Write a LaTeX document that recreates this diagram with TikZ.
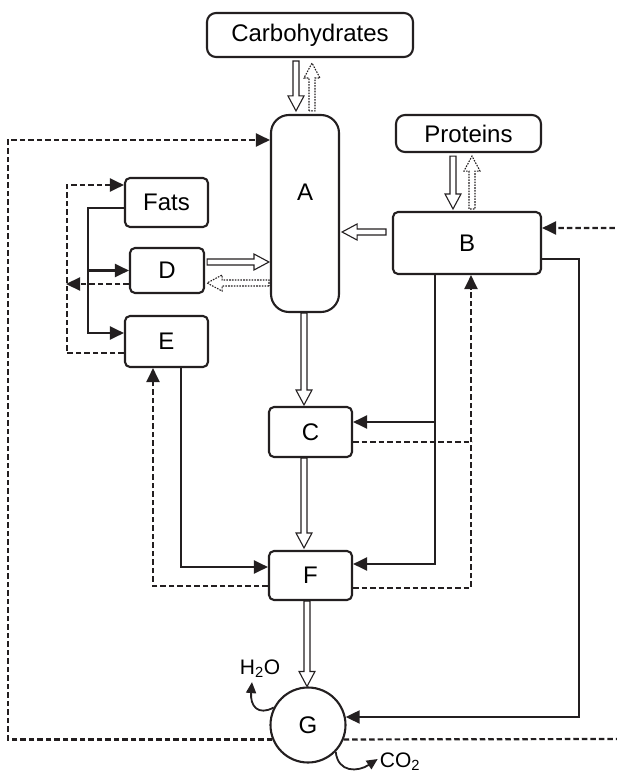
\documentclass[tikz,border=0pt]{standalone}
\usepackage{fontspec}
\setmainfont{Liberation Sans}
\usetikzlibrary{arrows.meta,positioning,calc}
\definecolor{ink}{HTML}{231F20}
\tikzset{
  unitbox/.style={
    draw=ink, line width=2.1pt, rounded corners=5pt,
    inner sep=0pt, font=\fontsize{24}{28}\selectfont
  },
  gasnote/.style={inner sep=2pt, font=\fontsize{21}{24}\selectfont},
  flow/.style={draw=ink, line width=2.2pt, -{Triangle[length=14pt,width=13pt]}},
  backflow/.style={flow, dash pattern=on 5.5pt off 3pt},
  hollow/.style={draw=ink, line width=1.1pt, to path={
    ($(\tikztostart)!3pt!90:(\tikztotarget)$)
    -- ($(\tikztotarget)!15pt!(\tikztostart)!3pt!-90:(\tikztostart)$)
    -- ($(\tikztotarget)!15pt!(\tikztostart)!8pt!-90:(\tikztostart)$)
    -- (\tikztotarget)
    -- ($(\tikztotarget)!15pt!(\tikztostart)!8pt!90:(\tikztostart)$)
    -- ($(\tikztotarget)!15pt!(\tikztostart)!3pt!90:(\tikztostart)$)
    -- ($(\tikztostart)!3pt!-90:(\tikztotarget)$) -- cycle}},
  hollowback/.style={hollow, dash pattern=on 1.6pt off 1.2pt}
}
\begin{document}
\begin{tikzpicture}[x=1pt,y=-1pt]
\useasboundingbox (0,0) rectangle (616,773);
% sources
\node[unitbox, rounded corners=9pt, minimum width=206pt, minimum height=44pt] (carb) at (310,35) {Carbohydrates};
\node[unitbox, rounded corners=9pt, minimum width=145pt, minimum height=37pt] (prot) at (468.5,133.5) {Proteins};
% pools
\node[unitbox, rounded corners=18pt, minimum width=68pt, minimum height=197pt,
  label={[font=\fontsize{24}{28}\selectfont, yshift=21pt]center:A}] (A) at (305,213.5) {};
\node[unitbox, minimum width=148pt, minimum height=62pt] (B) at (467,243) {B};
\node[unitbox, minimum width=83pt, minimum height=49pt] (fats) at (166.5,202.5) {Fats};
\node[unitbox, minimum width=74pt, minimum height=45pt] (D) at (167,270.5) {D};
\node[unitbox, minimum width=83pt, minimum height=51pt] (E) at (166.5,341.5) {E};
\node[unitbox, minimum width=83pt, minimum height=50pt] (C) at (310.5,432) {C};
\node[unitbox, minimum width=83pt, minimum height=49pt] (F) at (310.5,575.5) {F};
\node[unitbox, circle, minimum size=75pt] (G) at (308,725) {G};
\node[gasnote] (h2o) at (260,669) {H\textsubscript{2}O};
\node[gasnote] (co2) at (400,762) {CO\textsubscript{2}};

% main stream
\draw[hollow] ([xshift=-14pt,yshift=-3pt]carb.south) to ([xshift=-9pt,yshift=3pt]A.north);
\draw[hollowback] ([xshift=7pt,yshift=3pt]A.north) to ([xshift=2pt,yshift=-5pt]carb.south);
\draw[hollow] ([xshift=-15.5pt,yshift=-3pt]prot.south) to ([xshift=-14pt,yshift=2pt]B.north);
\draw[hollowback] ([xshift=5pt,yshift=2pt]B.north) to ([xshift=3.5pt,yshift=-3pt]prot.south);
\draw[hollow] ([xshift=-6pt,yshift=11pt]B.west) to ([xshift=2pt,yshift=-18.5pt]A.east);
\draw[hollow] ([xshift=2pt,yshift=8.5pt]D.east) to ([xshift=-1pt,yshift=-48.5pt]A.west);
\draw[hollowback] ([xshift=-1pt,yshift=-69.5pt]A.west) to ([xshift=2pt,yshift=-12.5pt]D.east);
\draw[hollow] ([xshift=-1pt]A.south) to ([xshift=-6.5pt,yshift=1pt]C.north);
\draw[hollow] ([xshift=-6.5pt]C.south) to ([xshift=-6.5pt,yshift=2pt]F.north);
\draw[hollow] ([xshift=-3.5pt]F.south) to ([xshift=-1pt]G.north);

% solid links
\draw[flow] ([yshift=-5.5pt]fats.west) -- ++(-36,0) coordinate (fork) |- ([yshift=8.5pt]E.west);
\draw[flow] (fork |- D.west) -- (D.west);
\draw[flow] ([xshift=14.5pt]E.south) |- ([yshift=8.5pt]F.west);
\coordinate (bdown) at ([xshift=-32pt]B.south);
\coordinate (cin) at ([yshift=10pt]C.east);
\draw[flow] (bdown) |- ([yshift=11.5pt]F.east);
\draw[flow] (bdown |- cin) -- (cin);
\draw[flow] ([yshift=-16pt]B.east) -- ++(37,0) |- (G.12);

% dashed links
\draw[backflow] (G.202) -| (8,140) -- ([yshift=73.5pt]A.west);
\draw[backflow] (G.338) -- (619,739) |- ([yshift=15pt]B.east);
\draw[backflow] ([yshift=-11.5pt]E.west) -- ++(-57,0) |- ([yshift=17.5pt]fats.west);
\coordinate (dout) at (66,284);
\draw[backflow] ([yshift=-13.5pt]D.west) -- (dout);
\draw[backflow] ([yshift=-10.5pt]F.west) -| ([xshift=-13.5pt]E.south);
\draw[backflow] ([yshift=-12.5pt]F.east) -| ([xshift=4pt]B.south);
\draw[backflow, -] ([yshift=-10pt]C.east) -- ++(119,0);

% gases
\draw[flow, line width=1.8pt, -{Triangle[length=11pt,width=10pt]}] (G.153)
  .. controls (258,716) and (250,706) .. ([xshift=-8pt,yshift=-2pt]h2o.south);
\draw[flow, line width=1.8pt, -{Triangle[length=11pt,width=10pt]}] (G.-44)
  .. controls (338,773) and (358,772) .. ([yshift=3pt]co2.west);
\end{tikzpicture}
\end{document}
